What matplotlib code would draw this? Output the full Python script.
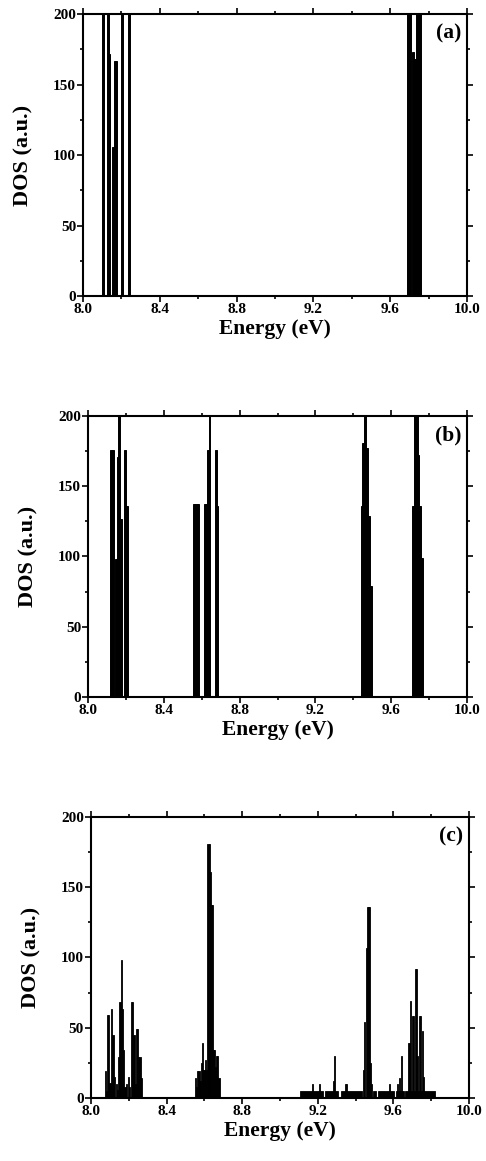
import matplotlib
matplotlib.use("Agg")
import matplotlib.pyplot as plt
from matplotlib.ticker import MultipleLocator

plt.rcParams['font.family'] = ['Liberation Serif', 'DejaVu Serif']
plt.rcParams['font.weight'] = 'bold'

# ---- panel (a): isolated levels, many off-scale (>200)
energy_a = [8.106, 8.130, 8.137, 8.158, 8.166, 8.170, 8.202, 8.238,
            9.695, 9.705, 9.719, 9.729, 9.740, 9.750, 9.757]
dos_a = [260, 260, 172, 106, 167, 167, 260, 260,
         260, 260, 173, 168, 260, 260, 260]

# ---- panel (b)
energy_b = [8.122, 8.134, 8.150, 8.157, 8.163, 8.173, 8.197, 8.205,
            8.561, 8.571, 8.581, 8.616, 8.625, 8.633, 8.641, 8.674, 8.681,
            9.444, 9.452, 9.462, 9.473, 9.483, 9.491,
            9.714, 9.726, 9.734, 9.743, 9.752, 9.760]
dos_b = [176, 176, 98, 171, 260, 127, 176, 136,
         137, 137, 137, 137, 137, 176, 260, 176, 136,
         136, 181, 260, 177, 129, 79,
         136, 260, 260, 172, 136, 99]

# ---- panel (c): broadened spectrum
energy_c = [8.076, 8.081, 8.088, 8.094, 8.101, 8.110, 8.117, 8.124, 8.133,
            8.140, 8.148, 8.153, 8.160, 8.167, 8.173, 8.180, 8.188, 8.197,
            8.205, 8.214, 8.221, 8.228, 8.234, 8.241, 8.247, 8.253, 8.259,
            8.265,
            8.553, 8.559, 8.565, 8.571, 8.577, 8.583, 8.589, 8.595, 8.601,
            8.607, 8.613, 8.619, 8.625, 8.630, 8.636, 8.641, 8.647, 8.653,
            8.659, 8.665, 8.671, 8.677,
            9.170, 9.208, 9.282, 9.290, 9.347, 9.353,
            9.443, 9.448, 9.457, 9.465, 9.471, 9.479, 9.485,
            9.578, 9.622, 9.631, 9.642, 9.682, 9.691, 9.700, 9.708, 9.716,
            9.722, 9.729, 9.738, 9.744, 9.752, 9.760]
dos_c = [19, 5, 59, 59, 11, 63, 45, 15, 10,
         6, 29, 68, 98, 63, 34, 8, 10, 15,
         8, 68, 68, 45, 10, 49, 49, 29, 29,
         14,
         14, 8, 19, 19, 12, 25, 39, 20, 20,
         27, 20, 181, 181, 161, 137, 137, 34, 34,
         22, 30, 30, 14,
         10, 10, 12, 30, 10, 10,
         20, 54, 107, 136, 136, 25, 10,
         10, 10, 14, 30, 39, 69, 58, 58, 92,
         92, 30, 58, 58, 48, 15]
# low continuous background in (c)
base_start = [9.105, 9.240, 9.322, 9.490, 9.520, 9.612, 9.660]
base_end = [9.228, 9.308, 9.432, 9.508, 9.605, 9.654, 9.818]
base_level = 5

fig = plt.figure(figsize=(4.86, 11.61), dpi=100)
ax_a = fig.add_axes([0.1708, 0.745, 0.790, 0.2429])
ax_b = fig.add_axes([0.1811, 0.3997, 0.780, 0.242])
ax_c = fig.add_axes([0.1872, 0.0543, 0.778, 0.242])

ax_a.bar(energy_a, dos_a, width=0.011, color='k', edgecolor='k', linewidth=0.7)
ax_b.bar(energy_b, dos_b, width=0.010, color='k', edgecolor='k', linewidth=0.7)
ax_c.bar(energy_c, dos_c, width=0.0065, color='k', edgecolor='k', linewidth=0.6)
ax_c.bar(base_start, [base_level] * len(base_start),
         width=[e - s for s, e in zip(base_start, base_end)],
         align='edge', color='k', edgecolor='k', linewidth=0.6)

labels = ['(a)', '(b)', '(c)']
for ax, lab in zip([ax_a, ax_b, ax_c], labels):
    ax.set_xlim(8.0, 10.0)
    ax.set_ylim(0, 200)
    ax.xaxis.set_major_locator(MultipleLocator(0.4))
    ax.xaxis.set_minor_locator(MultipleLocator(0.2))
    ax.yaxis.set_major_locator(MultipleLocator(50))
    ax.yaxis.set_minor_locator(MultipleLocator(25))
    ax.xaxis.set_major_formatter(plt.FormatStrFormatter('%.1f'))
    ax.tick_params(which='both', direction='out', top=True, right=True,
                   width=1.2, labelsize=11, pad=1)
    ax.tick_params(which='major', length=4)
    ax.tick_params(which='minor', length=2.5)
    for s in ax.spines.values():
        s.set_linewidth(1.5)
    ax.set_xlabel('Energy (eV)', fontsize=15.5, fontweight='bold', labelpad=2)
    ax.set_ylabel('DOS (a.u.)', fontsize=16, fontweight='bold', labelpad=14)
    ax.text(0.985, 0.965, lab, transform=ax.transAxes, ha='right', va='top',
            fontsize=15.5, fontweight='bold')

fig.savefig('out.png', dpi=100)
